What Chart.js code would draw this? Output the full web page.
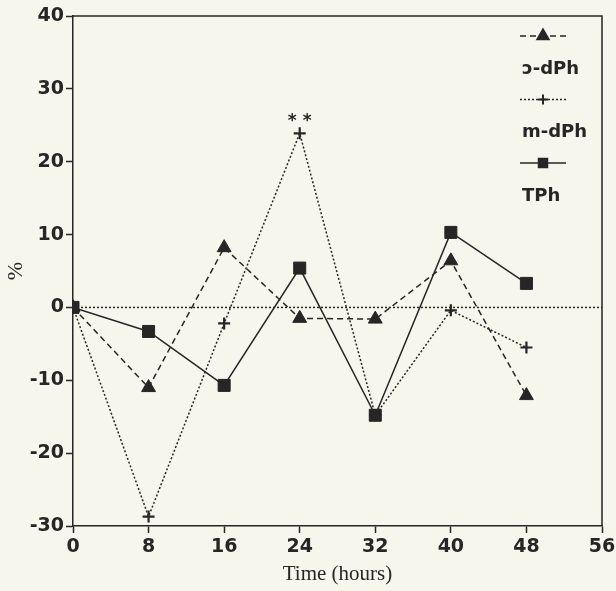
<!DOCTYPE html>
<html>
<head>
<meta charset="utf-8">
<script src="https://cdn.jsdelivr.net/npm/chart.js@4"></script>
<style>
  html, body { margin: 0; padding: 0; background: #f7f6ec; }
  #wrap { width: 616px; height: 591px; }
</style>
</head>
<body>
<div id="wrap"><canvas id="grafico" width="616" height="591"></canvas></div>
<script>
// ---- DADOS ----
var horas   = [0, 8, 16, 24, 32, 40, 48];
var cdPh    = [0, -11.0, 8.2, -1.5, -1.6, 6.4, -12.1];
var mdPh    = [0, -28.7, -2.2, 23.9, -14.8, -0.4, -5.5];
var tPh     = [0, -3.3, -10.7, 5.4, -14.8, 10.3, 3.3];
var xTicks  = [0, 8, 16, 24, 32, 40, 48, 56];
var yTicks  = [-30, -20, -10, 0, 10, 20, 30, 40];
var nomes   = ['ɔ-dPh', 'm-dPh', 'TPh'];
var marcaHora = 24;   // ponto com ** (m-dPh)
var marcaTexto = '* *';

var TINTA = '#262626';

function pontos(vals) {
  return horas.map(function(h, i) { return { x: h, y: vals[i] }; });
}

// ---- PLUGIN: moldura, linha do zero, ** e legenda ----
var extras = {
  id: 'extras',
  beforeDatasetsDraw: function(chart) {
    var ctx = chart.ctx, a = chart.chartArea, y = chart.scales.y;
    ctx.save();
    // linha pontilhada em y = 0
    var y0 = y.getPixelForValue(0);
    ctx.strokeStyle = TINTA;
    ctx.lineWidth = 1.5;
    ctx.setLineDash([2, 2]);
    ctx.beginPath();
    ctx.moveTo(a.left, y0);
    ctx.lineTo(a.right, y0);
    ctx.stroke();
    // topo e lado direito da moldura
    ctx.setLineDash([]);
    ctx.beginPath();
    ctx.moveTo(a.left, a.top);
    ctx.lineTo(a.right, a.top);
    ctx.lineTo(a.right, a.bottom);
    ctx.stroke();
    ctx.restore();
  },
  afterDatasetsDraw: function(chart) {
    var ctx = chart.ctx, a = chart.chartArea;
    var sx = chart.scales.x, sy = chart.scales.y;
    ctx.save();
    // asteriscos sobre o pico do m-dPh
    var i = horas.indexOf(marcaHora);
    ctx.fillStyle = TINTA;
    ctx.font = 'bold 17px "DejaVu Sans"';
    ctx.textAlign = 'center';
    ctx.textBaseline = 'middle';
    ctx.fillText(marcaTexto, sx.getPixelForValue(marcaHora), sy.getPixelForValue(mdPh[i]) - 12);

    // legenda: amostra da linha + marcador, nome embaixo
    var x1 = a.right - 82, x2 = a.right - 36, top = a.top + 20;
    var raios = { triangle: 6.5, cross: 5, rect: 6 };
    chart.data.datasets.forEach(function(ds, k) {
      var yl = top + k * 63.5;
      ctx.strokeStyle = TINTA;
      ctx.lineWidth = 1.3;
      ctx.setLineDash(ds.borderDash || []);
      ctx.beginPath();
      ctx.moveTo(x1, yl);
      ctx.lineTo(x2, yl);
      ctx.stroke();
      ctx.setLineDash([]);
      ctx.fillStyle = TINTA;
      ctx.lineWidth = 2;
      Chart.helpers.drawPoint(ctx, { pointStyle: ds.pointStyle, radius: raios[ds.pointStyle], borderWidth: 2 },
        (x1 + x2) / 2, yl);
      ctx.font = 'bold 18px "DejaVu Sans"';
      ctx.textAlign = 'left';
      ctx.textBaseline = 'middle';
      ctx.fillText(ds.label, x1 + 2, yl + 33);
    });
    ctx.restore();
  }
};

// ---- GRAFICO ----
var fonteEixo = { family: 'DejaVu Sans', size: 19, weight: 'bold' };

new Chart(document.getElementById('grafico'), {
  type: 'line',
  data: {
    datasets: [
      { label: nomes[0], data: pontos(cdPh), borderColor: TINTA, backgroundColor: TINTA,
        borderWidth: 1.5, borderDash: [6, 4], pointStyle: 'triangle', pointRadius: 8,
        pointBorderWidth: 1, order: 1 },
      { label: nomes[1], data: pontos(mdPh), borderColor: TINTA, backgroundColor: TINTA,
        borderWidth: 1.5, borderDash: [2, 2], pointStyle: 'cross', pointRadius: 6,
        pointBorderWidth: 2.2, order: 2 },
      { label: nomes[2], data: pontos(tPh), borderColor: TINTA, backgroundColor: TINTA,
        borderWidth: 1.5, pointStyle: 'rect', pointRadius: 8.5,
        pointBorderWidth: 1, order: 0 }
    ]
  },
  options: {
    responsive: false,
    animation: false,
    layout: { padding: { top: 16, right: 14, left: 0, bottom: 0 } },
    plugins: { legend: { display: false }, tooltip: { enabled: false } },
    scales: {
      x: {
        type: 'linear', min: 0, max: 56,
        afterBuildTicks: function(s) { s.ticks = xTicks.map(function(v) { return { value: v }; }); },
        afterFit: function(s) { s.height = 65; s.paddingRight = 0; s.paddingLeft = 0; },
        grid: { drawOnChartArea: false, drawTicks: true, tickLength: 7, tickColor: TINTA, tickWidth: 1.5 },
        border: { display: true, color: TINTA, width: 1.5 },
        ticks: { color: TINTA, font: fonteEixo, padding: 3, maxRotation: 0 },
        title: { display: true, text: 'Time (hours)', color: TINTA,
          font: { family: 'Liberation Serif', size: 21 }, padding: { top: 0, bottom: 4 } }
      },
      y: {
        type: 'linear', min: -30, max: 40,
        afterBuildTicks: function(s) { s.ticks = yTicks.map(function(v) { return { value: v }; }); },
        afterFit: function(s) { s.width = 73; },
        grid: { drawOnChartArea: false, drawTicks: true, tickLength: 7, tickColor: TINTA, tickWidth: 1.5 },
        border: { display: true, color: TINTA, width: 1.5 },
        ticks: { color: TINTA, font: fonteEixo, padding: 2 },
        title: { display: true, text: '%', color: TINTA,
          font: { family: 'Liberation Serif', size: 22 }, padding: { top: 3, bottom: 0 } }
      }
    }
  },
  plugins: [extras]
});
</script>
</body>
</html>
